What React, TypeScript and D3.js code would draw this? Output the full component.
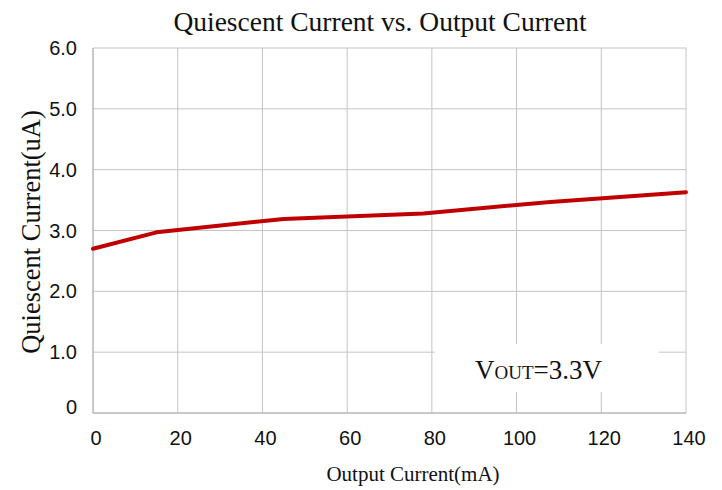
import React from "react";
import * as d3 from "d3";

const outputCurrent = [0, 15, 45, 78, 108, 140];
const quiescentCurrent = [2.7, 2.97, 3.19, 3.28, 3.47, 3.63];
const xTicks = [0, 20, 40, 60, 80, 100, 120, 140];
const yTicks = [0, 1, 2, 3, 4, 5, 6];
const yTickLabels = ["0", "1.0", "2.0", "3.0", "4.0", "5.0", "6.0"];

const W = 722;
const H = 490;
const left = 93;
const right = 686;
const top = 48;
const bottom = 413;

export default function App() {
  const x = d3.scaleLinear().domain([0, 140]).range([left, right]);
  const y = d3.scaleLinear().domain([0, 6]).range([bottom, top]);
  const data = outputCurrent.map((v, i) => [v, quiescentCurrent[i]] as [number, number]);
  const line = d3
    .line<[number, number]>()
    .x((d) => x(d[0]))
    .y((d) => y(d[1]));
  const grid = "#c4c4c4";
  const serif = "'Liberation Serif', 'Times New Roman', serif";
  const sans = "'Liberation Sans', Arial, sans-serif";
  return (
    <svg
      width={W}
      height={H}
      style={{ position: "absolute", left: 0, top: 0, background: "#fff" }}
    >
      <rect x={0} y={0} width={W} height={H} fill="#fff" />
      {yTicks.map((t) => (
        <line key={"h" + t} x1={left} x2={right} y1={y(t)} y2={y(t)} stroke={grid} strokeWidth={1} />
      ))}
      {xTicks.map((t) => (
        <line key={"v" + t} x1={x(t)} x2={x(t)} y1={top} y2={bottom} stroke={grid} strokeWidth={1} />
      ))}
      <rect x={x(80) + 3} y={344} width={224} height={48} fill="#fff" />
      <line x1={left} x2={left} y1={top} y2={bottom} stroke="#b0b0b0" strokeWidth={1} />
      <line x1={left} x2={right} y1={bottom} y2={bottom} stroke="#b0b0b0" strokeWidth={1} />
      <path d={line(data) || ""} fill="none" stroke="#c00000" strokeWidth={4} strokeLinejoin="round" strokeLinecap="round" />
      {yTicks.map((t, i) => (
        <text
          key={"yl" + t}
          x={77}
          y={y(t) + 7 - (t === 0 ? 6 : 0)}
          textAnchor="end"
          fontFamily={sans}
          fontSize={20}
          fill="#111"
        >
          {yTickLabels[i]}
        </text>
      ))}
      {xTicks.map((t) => (
        <text
          key={"xl" + t}
          x={x(t) + 3}
          y={445}
          textAnchor="middle"
          fontFamily={sans}
          fontSize={20}
          fill="#111"
        >
          {t}
        </text>
      ))}
      <text x={380} y={31} textAnchor="middle" fontFamily={serif} fontSize={27.5} fill="#111">
        Quiescent Current vs. Output Current
      </text>
      <text
        transform={`translate(40, 232) rotate(-90)`}
        textAnchor="middle"
        fontFamily={serif}
        fontSize={26.5}
        fill="#111"
      >
        Quiescent Current(uA)
      </text>
      <text x={413} y={481} textAnchor="middle" fontFamily={serif} fontSize={21} fill="#111">
        Output Current(mA)
      </text>
      <text x={475} y={379} fontFamily={serif} fontSize={27} fill="#111">
        V<tspan fontSize={19}>OUT</tspan>=3.3V
      </text>
    </svg>
  );
}
